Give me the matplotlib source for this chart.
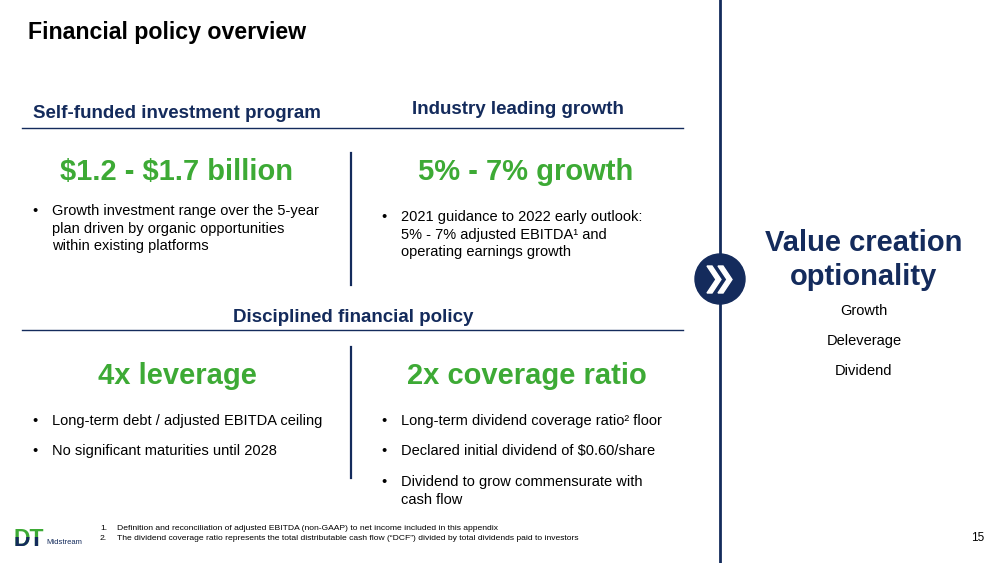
import matplotlib
matplotlib.use("Agg")
import matplotlib.pyplot as plt
from matplotlib.patches import Circle, Polygon, Rectangle

plt.rcParams["font.family"] = ["Liberation Sans", "DejaVu Sans"]

NAVY = "#142B5C"
GREEN = "#3DAA35"

# slide content
title = "Financial policy overview"
section_headers = ["Self-funded investment program", "Industry leading growth", "Disciplined financial policy"]
big_numbers = ["$1.2 - $1.7 billion", "5% - 7% growth", "4x leverage", "2x coverage ratio"]
bullets_top_left = [["Growth investment range over the 5-year",
                     "plan driven by organic opportunities",
                     "within existing platforms"]]
bullets_top_right = [["2021 guidance to 2022 early outlook:",
                      "5% - 7% adjusted EBITDA¹ and",
                      "operating earnings growth"]]
bullets_bottom_left = [["Long-term debt / adjusted EBITDA ceiling"],
                       ["No significant maturities until 2028"]]
bullets_bottom_right = [["Long-term dividend coverage ratio² floor"],
                        ["Declared initial dividend of $0.60/share"],
                        ["Dividend to grow commensurate with", "cash flow"]]
side_title = ["Value creation", "optionality"]
side_items = ["Growth", "Deleverage", "Dividend"]
footnotes = ["Definition and reconciliation of adjusted EBITDA (non-GAAP) to net income included in this appendix",
             "The dividend coverage ratio represents the total distributable cash flow (\u201cDCF\u201d) divided by total dividends paid to investors"]
page_no = "15"

fig = plt.figure(figsize=(10.04, 5.63), dpi=100)
ax = fig.add_axes([0, 0, 1, 1])
ax.set_xlim(0, 1004)
ax.set_ylim(563, 0)
ax.axis("off")

ax.text(28, 33, title, fontsize=16.7, fontweight="bold", color="black", va="center")

# main vertical separator
ax.plot([720, 720], [0, 563], color=NAVY, lw=2)

# section headers and rules
ax.text(177, 114, section_headers[0], fontsize=13.5, fontweight="bold", color=NAVY, ha="center", va="center")
ax.text(518, 110, section_headers[1], fontsize=13.5, fontweight="bold", color=NAVY, ha="center", va="center")
ax.plot([22, 683], [128, 128], color=NAVY, lw=1)
ax.text(353, 318, section_headers[2], fontsize=13.5, fontweight="bold", color=NAVY, ha="center", va="center")
ax.plot([22, 683], [330, 330], color=NAVY, lw=1)

# big green figures
for txt, (x, y) in zip(big_numbers, [(177, 172), (526, 172), (177, 376), (527, 376)]):
    ax.text(x, y, txt, fontsize=21, fontweight="bold", color=GREEN, ha="center", va="center",
            parse_math=False)

# small dividers
ax.plot([351, 351], [153, 285], color=NAVY, lw=1.6)
ax.plot([351, 351], [347, 478], color=NAVY, lw=1.6)


def draw_bullets(groups, x0, y0, gap, line_h=17.5):
    y = y0
    for lines in groups:
        ax.text(x0, y, "\u2022", fontsize=10.5, color="black", va="center")
        for i, ln in enumerate(lines):
            ax.text(x0 + 20, y + i * line_h, ln, fontsize=10.5, color="black", va="center",
                    parse_math=False)
        y += gap + (len(lines) - 1) * line_h


draw_bullets(bullets_top_left, 32, 211, 30)
draw_bullets(bullets_top_right, 381, 217, 30)
draw_bullets(bullets_bottom_left, 32, 421, 30)
draw_bullets(bullets_bottom_right, 381, 421, 30.5)

# chevron badge
ax.add_patch(Circle((720, 279), 25, color=NAVY, zorder=3))
for dx in (0, 11):
    x0 = 707 + dx
    ax.add_patch(Polygon([(x0, 266), (x0 + 5, 266), (x0 + 14, 279.5), (x0 + 5, 293),
                          (x0, 293), (x0 + 9, 279.5)], closed=True, color="white", zorder=4))

# right panel
ax.text(864, 243, side_title[0], fontsize=21, fontweight="bold", color=NAVY, ha="center", va="center")
ax.text(864, 277, side_title[1], fontsize=21, fontweight="bold", color=NAVY, ha="center", va="center")
for i, item in enumerate(side_items):
    ax.text(864, 311 + i * 30, item, fontsize=10.5, color="black", ha="center", va="center")

# footnotes
for i, note in enumerate(footnotes):
    ax.text(100, 528 + i * 11, f"{i + 1}.", fontsize=6.1, color="black", va="center")
    ax.text(117, 528 + i * 11, note, fontsize=6.1, color="black", va="center")

ax.text(984, 538, page_no, fontsize=8.5, color="black", ha="right", va="center")

# logo: green top, navy bottom half
ax.text(14, 546, "DT", fontsize=16.5, fontweight="heavy", color=GREEN, va="baseline")
dt_navy = ax.text(14, 546, "DT", fontsize=16.5, fontweight="heavy", color=NAVY, va="baseline")
clip = Rectangle((0, 537), 60, 16, transform=ax.transData, visible=False)
ax.add_patch(clip)
dt_navy.set_clip_on(True)
dt_navy.set_clip_path(clip)
ax.text(46, 543, "Midstream", fontsize=5.5, color=NAVY, va="center", fontstretch="condensed")

fig.savefig("out.png", dpi=100)
